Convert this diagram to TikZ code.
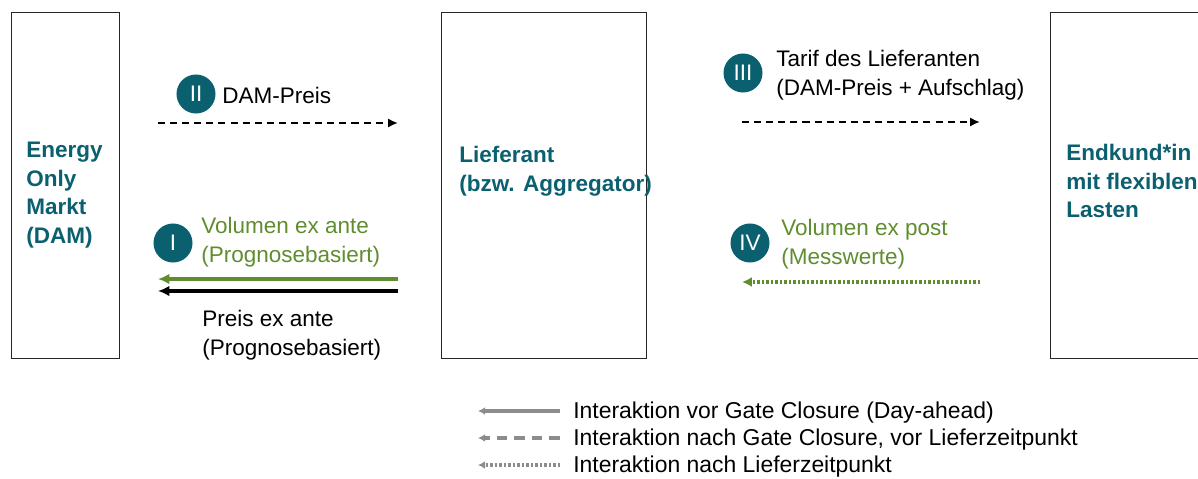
\documentclass[tikz,border=0pt]{standalone}
\usepackage{fontspec}
\setmainfont{Liberation Sans}
\usetikzlibrary{arrows.meta, positioning}
\definecolor{petrol}{HTML}{0B6070}
\definecolor{grasgruen}{HTML}{5F8D2F}
\definecolor{legendgrau}{HTML}{8C8C8C}
\tikzset{
    x=0.025cm, y=-0.025cm,
    akteur/.style ={draw=black!85, line width=0.7pt, minimum height=8.625cm, minimum width=#1, inner sep=0pt},
    akteurtxt/.style ={anchor=west, align=left, inner sep=0pt, text=petrol, font=\fontsize{16}{20.3}\selectfont\bfseries},
    txt/.style ={anchor=west, align=left, inner sep=0pt, font=\fontsize{16}{20.6}\selectfont},
    nummer/.style ={circle, fill=petrol, text=white, minimum size=0.975cm, inner sep=0pt, font=\fontsize{16}{20}\selectfont},
    vorab/.style ={-{Latex[length=7pt,width=6.5pt]}, line width=1.7pt, dash pattern=on 5pt off 3.6pt},
    ante/.style ={-{Latex[length=8pt,width=7.5pt]}, line width=2.2pt},
    post/.style ={-{Latex[length=7pt,width=7pt]}, line width=2.2pt, dash pattern=on 1.6pt off 1.6pt, grasgruen},
    leg/.style ={-{Latex[length=5pt,width=5.5pt]}, line width=2.2pt, legendgrau}
}

\begin{document}
\begin{tikzpicture}
  \path[use as bounding box, clip] (0,0) rectangle (1198,479);

  % Akteure
  \node[akteur=2.675cm] (markt) at (65.5,185.5) {};
  \node[akteur=5.1cm] (lieferant) at (544,185.5) {};
  \node[akteur=4.975cm] (endkunde) at (1150.5,185.5) {};
  \node[akteurtxt] (markttxt) at (26,195) {Energy\\Only\\Markt\\(DAM)};
  \node[akteurtxt] (lieferanttxt) at (459,171) {Lieferant\\(bzw. Aggregator)};
  \node[akteurtxt] (endkundetxt) at (1066,181) {Endkund*in\\mit flexiblen\\Lasten};

  % Interaktionen
  \node[nummer] (n2) at (196,94) {II};
  \node[txt] (dampreis) at (222,95.5) {DAM-Preis};
  \node[nummer] (n1) at (173,243) {I};
  \node[txt, text=grasgruen] (volante) at (201,242.6) {Volumen ex ante\\(Prognosebasiert)};
  \node[txt] (preisante) at (202,334.8) {Preis ex ante\\(Prognosebasiert)};
  \node[nummer] (n3) at (743,73) {III};
  \node[txt] (tarif) at (776,75) {Tarif des Lieferanten\\(DAM-Preis + Aufschlag)};
  \node[nummer] (n4) at (750,243) {IV};
  \node[txt, text=grasgruen] (volpost) at (781,244.6) {Volumen ex post\\(Messwerte)};

  \coordinate (a2) at (158,123);  \coordinate (b2) at (398,123);
  \coordinate (a1) at (398,279);  \coordinate (b1) at (158,279);
  \coordinate (c1) at (398,291);  \coordinate (d1) at (158,291);
  \coordinate (a3) at (742,122);  \coordinate (b3) at (980,122);
  \coordinate (a4) at (980,282);  \coordinate (b4) at (742,282);

  \draw[vorab] (a2) -- (b2);
  \draw[ante, grasgruen] (a1) -- (b1);
  \draw[ante] (c1) -- (d1);
  \draw[vorab] (a3) -- (b3);
  \draw[post] (a4) -- (b4);

  % Legende
  \coordinate (l1) at (560,411);  \coordinate (m1) at (478,411);
  \coordinate (l2) at (560,438);  \coordinate (m2) at (478,438);
  \coordinate (l3) at (560,465);  \coordinate (m3) at (478,465);
  \draw[leg] (l1) -- (m1);
  \draw[leg, dash pattern=on 7.5pt off 5pt] (l2) -- (m2);
  \draw[leg, dash pattern=on 1.6pt off 1.6pt] (l3) -- (m3);
  \node[txt, font=\fontsize{16.3}{20}\selectfont] (leg1) at (573,413) {Interaktion vor Gate Closure (Day-ahead)};
  \node[txt, font=\fontsize{16.3}{20}\selectfont] (leg2) at (573,440) {Interaktion nach Gate Closure, vor Lieferzeitpunkt};
  \node[txt, font=\fontsize{16.3}{20}\selectfont] (leg3) at (573,467) {Interaktion nach Lieferzeitpunkt};
\end{tikzpicture}
\end{document}
